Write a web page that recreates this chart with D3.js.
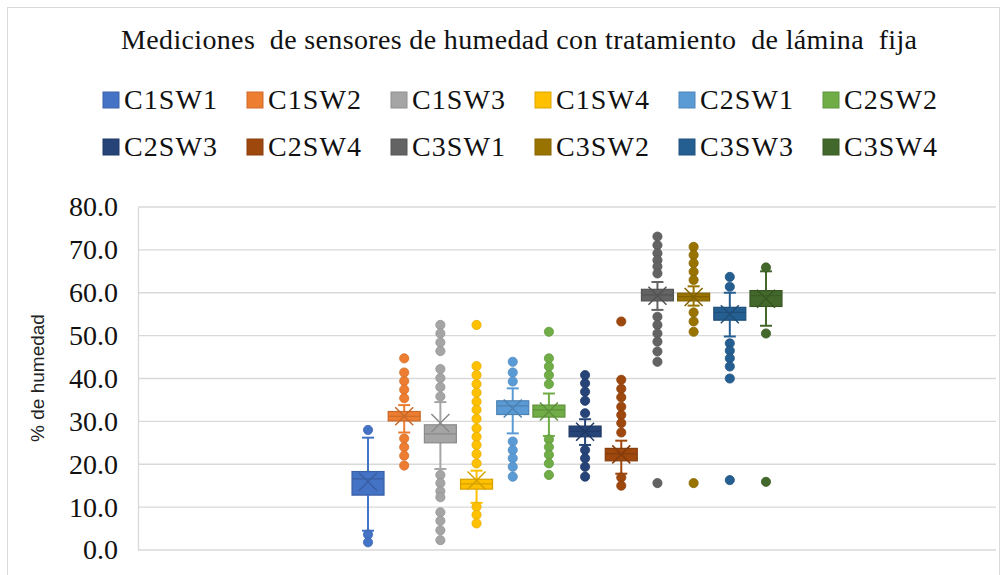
<!DOCTYPE html>
<html>
<head>
<meta charset="utf-8">
<script src="https://cdn.jsdelivr.net/npm/d3@7/dist/d3.min.js"></script>
<style>
  body { margin: 0; background: #fff; }
  svg { display: block; }
  .serif { font-family: "Liberation Serif", "DejaVu Serif", "Noto Serif", "Times New Roman", serif; }
</style>
</head>
<body>
<svg id="chart" width="1005" height="575"></svg>
<script>
// series names and colours
const series = ["C1SW1", "C1SW2", "C1SW3", "C1SW4", "C2SW1", "C2SW2",
                "C2SW3", "C2SW4", "C3SW1", "C3SW2", "C3SW3", "C3SW4"];
const colors = ["#4472C4", "#ED7D31", "#A5A5A5", "#FFC000", "#5B9BD5", "#70AD47",
                "#264478", "#9E480E", "#636363", "#997300", "#255E91", "#43682B"];

// box statistics
const q1          = [12.8, 30.1, 25.0, 14.2, 31.6, 31.0, 26.4, 20.8, 58.1, 58.1, 53.6, 56.8];
const median      = [16.6, 31.2, 27.1, 15.4, 33.6, 32.7, 27.7, 22.4, 59.5, 59.1, 55.4, 59.3];
const q3          = [18.3, 32.3, 29.2, 16.5, 34.8, 33.8, 28.9, 23.7, 60.8, 59.9, 56.6, 60.5];
const mean        = [15.9, 31.2, 29.6, 16.2, 33.0, 32.3, 27.6, 22.3, 59.3, 59.0, 55.0, 58.6];
const whiskerLow  = [4.5, 27.4, 18.9, 11.0, 27.2, 26.6, 24.5, 17.8, 56.0, 57.0, 49.8, 52.3];
const whiskerHigh = [26.2, 33.8, 34.5, 18.5, 37.7, 36.5, 30.5, 25.5, 62.5, 61.5, 60.0, 65.0];
const outliers = [
  [28.0, 3.6, 1.8],
  [44.7, 41.4, 39.4, 37.4, 35.4, 26.0, 24.0, 22.0, 19.7],
  [52.5, 50.5, 48.4, 46.4, 42.2, 40.1, 38.0, 35.8, 17.5, 15.6, 13.7, 12.3, 8.8, 6.8, 4.6, 2.3],
  [52.5, 42.9, 40.8, 38.7, 36.7, 34.6, 32.7, 30.6, 28.4, 26.4, 24.5, 22.4, 20.2, 10.1, 8.2, 6.2],
  [43.9, 41.4, 39.3, 25.3, 23.3, 21.4, 19.4, 17.1],
  [50.9, 44.7, 42.8, 40.8, 38.7, 25.8, 24.0, 22.2, 20.2, 17.5],
  [40.8, 38.9, 36.9, 34.8, 31.9, 23.3, 21.4, 19.4, 17.1],
  [53.3, 39.7, 37.6, 35.6, 33.4, 31.5, 29.6, 27.4, 16.9, 15.0],
  [73.1, 71.1, 69.2, 67.6, 66.1, 64.5, 54.4, 52.5, 50.5, 48.6, 46.3, 43.9, 15.6],
  [70.7, 68.8, 66.9, 64.9, 63.0, 55.4, 53.3, 50.9, 15.6],
  [63.7, 61.4, 48.2, 46.5, 44.7, 42.8, 40.0, 16.3],
  [65.9, 50.5, 15.9]
];
const yTicks = [0, 10, 20, 30, 40, 50, 60, 70, 80];

const svg = d3.select("#chart");

// chart border
svg.append("rect")
    .attr("x", 7.5).attr("y", 7.5)
    .attr("width", 992).attr("height", 580)
    .attr("fill", "#fff")
    .attr("stroke", "#d9d9d9");

// title
svg.append("text")
    .attr("class", "serif")
    .attr("x", 519).attr("y", 49)
    .attr("text-anchor", "middle")
    .attr("font-size", 28)
    .attr("fill", "#111")
    .attr("textLength", 796)
    .style("white-space", "pre")
    .text("Mediciones  de sensores de humedad con tratamiento  de lámina  fija");

// legend, two rows of six
const legend = svg.append("g");
series.forEach((s, i) => {
    const col = i % 6, row = Math.floor(i / 6);
    const g = legend.append("g")
        .attr("transform", `translate(${103 + col * 144},${92 + row * 47})`);
    g.append("rect")
        .attr("width", 16).attr("height", 16)
        .attr("fill", colors[i])
        .attr("stroke", d3.color(colors[i]).darker(0.4));
    g.append("text")
        .attr("class", "serif")
        .attr("x", 21).attr("y", 17)
        .attr("font-size", 28)
        .attr("fill", "#111")
        .attr("textLength", 93)
        .text(s);
});

// scales
const y = d3.scaleLinear().domain([0, 80]).range([550, 207]);
const x = d3.scaleBand().domain(series).range([138, 996])
    .paddingInner(0.116).paddingOuter(5.916);

// gridlines
svg.append("g")
    .selectAll("line")
    .data(yTicks)
    .join("line")
    .attr("x1", 138).attr("x2", 996)
    .attr("y1", d => y(d)).attr("y2", d => y(d))
    .attr("stroke", "#d9d9d9")
    .attr("stroke-width", 1.3);

// y axis
const yAxis = svg.append("g")
    .attr("transform", "translate(138,0)")
    .call(d3.axisLeft(y).tickValues(yTicks).tickFormat(d3.format(".1f")).tickSize(0).tickPadding(20));
yAxis.attr("font-family", null);
yAxis.select(".domain").attr("stroke", "#d9d9d9").attr("stroke-width", 1.3);
yAxis.selectAll("text")
    .attr("class", "serif")
    .attr("font-size", 28)
    .attr("fill", "#111");

svg.append("text")
    .attr("transform", "translate(44,378) rotate(-90)")
    .attr("text-anchor", "middle")
    .attr("font-family", "Liberation Sans, Arial, sans-serif")
    .attr("font-size", 19)
    .attr("fill", "#222")
    .text("% de humedad");

// boxes
const bw = x.bandwidth();
series.forEach((s, i) => {
    const c = colors[i];
    const dark = d3.color(c).darker(0.5);
    const cx = x(s) + bw / 2;
    const g = svg.append("g");

    // whiskers
    [[q3[i], whiskerHigh[i]], [q1[i], whiskerLow[i]]].forEach(([a, b]) => {
        g.append("line")
            .attr("x1", cx).attr("x2", cx)
            .attr("y1", y(a)).attr("y2", y(b))
            .attr("stroke", c).attr("stroke-width", 2);
        g.append("line")
            .attr("x1", cx - 6).attr("x2", cx + 6)
            .attr("y1", y(b)).attr("y2", y(b))
            .attr("stroke", c).attr("stroke-width", 2);
    });

    // box
    g.append("rect")
        .attr("x", x(s)).attr("width", bw)
        .attr("y", y(q3[i])).attr("height", y(q1[i]) - y(q3[i]))
        .attr("fill", c)
        .attr("stroke", dark).attr("stroke-width", 1.2);
    g.append("line")
        .attr("x1", x(s)).attr("x2", x(s) + bw)
        .attr("y1", y(median[i])).attr("y2", y(median[i]))
        .attr("stroke", dark).attr("stroke-width", 1.2);

    // mean marker
    const my = y(mean[i]);
    g.append("path")
        .attr("d", `M${cx - 9},${my - 9}L${cx + 9},${my + 9}M${cx - 9},${my + 9}L${cx + 9},${my - 9}`)
        .attr("stroke", dark).attr("stroke-width", 1.5)
        .attr("fill", "none");

    // outliers
    g.selectAll("circle")
        .data(outliers[i])
        .join("circle")
        .attr("cx", cx).attr("cy", d => y(d))
        .attr("r", 4.6)
        .attr("fill", c)
        .attr("stroke", d3.color(c).darker(0.3))
        .attr("stroke-width", 0.8);
});
</script>
</body>
</html>
